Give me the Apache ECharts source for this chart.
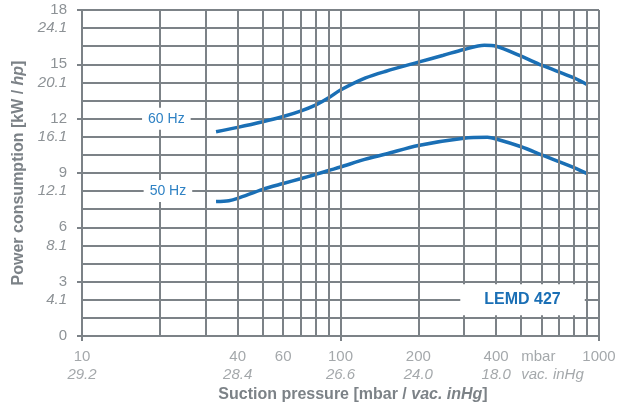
<!DOCTYPE html>
<html><head><meta charset="utf-8">
<script src="https://cdn.jsdelivr.net/npm/echarts@6/dist/echarts.min.js"></script>
<style>html,body{margin:0;padding:0;background:#fff}#c{width:619px;height:405px}</style>
</head><body><div id="c"></div>
<script>
// ---- data ----
const pressure60 = [33, 40, 50, 60, 70, 80, 90, 100, 125, 150, 200, 250, 300, 360, 400, 500, 600, 800, 905];
const power60    = [11.28, 11.52, 11.83, 12.12, 12.42, 12.75, 13.15, 13.58, 14.25, 14.62, 15.12, 15.5, 15.82, 16.05, 16.0, 15.45, 14.95, 14.25, 13.86];
const pressure50 = [33, 37, 40, 50, 60, 70, 80, 90, 100, 124, 150, 200, 300, 370, 400, 500, 600, 800, 905];
const power50    = [7.42, 7.47, 7.6, 8.1, 8.42, 8.68, 8.92, 9.14, 9.33, 9.75, 10.05, 10.52, 10.92, 10.97, 10.88, 10.45, 10.0, 9.3, 8.95];
const seriesNames = ['60 Hz', '50 Hz'];
const modelName = 'LEMD 427';

const xLabelValues = [10, 40, 60, 100, 200, 400, 1000];
const xLabelsMbar  = ['10', '40', '60', '100', '200', '400', '1000'];
const xLabelsInHg  = ['29.2', '28.4', '', '26.6', '24.0', '18.0', ''];
const xUnitValue = 665;
const xUnitMbar = 'mbar';
const xUnitInHg = 'vac. inHg';
const xGridValues = [20, 30, 40, 50, 60, 70, 80, 90, 100, 200, 300, 400, 500, 600, 700, 800, 900, 1000];

const yKwTicks = [0, 3, 6, 9, 12, 15, 18];
const yHpPositions = [2, 5, 8, 11, 14, 17];
const yHpLabels = ['4.1', '8.1', '12.1', '16.1', '20.1', '24.1'];

// ---- styles ----
const gridColor = '#7c8287';
const textColor = '#8d9296';
const blue = '#1a6fb5';
const labelBlue = '#2f82c4';
const font = '"Liberation Sans", Arial, sans-serif';

const chart = echarts.init(document.getElementById('c'), null, {renderer: 'canvas'});

const zip = (xs, ys) => xs.map((x, i) => [x, ys[i]]);

const option = {
  animation: false,
  backgroundColor: '#fff',
  textStyle: {fontFamily: font},
  grid: {left: 82, right: 20, top: 10, bottom: 69, containLabel: false, outerBoundsMode: 'none'},
  xAxis: [{
    type: 'log', logBase: 10, min: 10, max: 1000,
    name: 'Suction pressure [mbar / {i|vac. inHg}]',
    nameLocation: 'middle', nameGap: 51,
    nameTextStyle: {color: gridColor, fontSize: 16, fontWeight: 'bold', fontFamily: font, padding: [0, 0, 0, 25],
      rich: {i: {fontStyle: 'italic', fontWeight: 'bold', color: gridColor, fontSize: 16, fontFamily: font}}},
    axisLine: {show: true, lineStyle: {color: gridColor, width: 2}},
    axisTick: {show: true, length: 5, lineStyle: {color: gridColor, width: 2}},
    axisLabel: {show: false},
    splitLine: {show: false},
    minorTick: {show: false}
  }],
  yAxis: [{
    type: 'value', min: 0, max: 18, interval: 1,
    name: 'Power consumption [kW / {i|hp}]',
    nameLocation: 'middle', nameGap: 55,
    nameTextStyle: {color: gridColor, fontSize: 16, fontWeight: 'bold', fontFamily: font,
      rich: {i: {fontStyle: 'italic', fontWeight: 'bold', color: gridColor, fontSize: 16, fontFamily: font}}},
    axisLine: {show: true, lineStyle: {color: gridColor, width: 2}},
    axisTick: {show: false},
    splitLine: {show: true, lineStyle: {color: gridColor, width: 2}},
    axisLabel: {
      margin: 15, color: textColor, fontSize: 15, fontFamily: font,
      formatter: function (v) {
        if (yKwTicks.indexOf(v) >= 0) return '{k|' + v + '}';
        const i = yHpPositions.indexOf(v);
        if (i >= 0) return '{h|' + yHpLabels[i] + '}';
        return '';
      },
      rich: {
        k: {color: textColor, fontSize: 15, fontFamily: font},
        h: {color: textColor, fontSize: 15, fontStyle: 'italic', fontFamily: font}
      }
    }
  }, {
    type: 'value', min: 0, max: 18, interval: 3, position: 'left',
    axisLine: {show: false},
    axisTick: {show: true, length: 5, lineStyle: {color: gridColor, width: 2}},
    axisLabel: {show: false},
    splitLine: {show: false}
  }],
  series: [
    {
      type: 'line', name: 'grid', z: 1, silent: true, data: [],
      markLine: {
        silent: true, symbol: ['none', 'none'], animation: false,
        label: {show: false},
        lineStyle: {color: gridColor, width: 2, type: 'solid'},
        emphasis: {disabled: true},
        data: xGridValues.map(v => ({xAxis: v}))
      }
    },
    {
      type: 'line', name: seriesNames[0], z: 3, smooth: 0.3, symbol: 'none',
      lineStyle: {color: blue, width: 3.5}, itemStyle: {color: blue},
      data: zip(pressure60, power60),
      markPoint: {
        symbol: 'rect', symbolSize: 1, itemStyle: {color: 'rgba(0,0,0,0)'}, silent: true,
        data: [{coord: [21.2, 12], label: {show: true, position: 'inside', formatter: seriesNames[0],
          color: labelBlue, fontSize: 14, fontFamily: font, backgroundColor: '#fff', padding: [4, 6]}}]
      }
    },
    {
      type: 'line', name: seriesNames[1], z: 3, smooth: 0.3, symbol: 'none',
      lineStyle: {color: blue, width: 3.5}, itemStyle: {color: blue},
      data: zip(pressure50, power50),
      markPoint: {
        symbol: 'rect', symbolSize: 1, itemStyle: {color: 'rgba(0,0,0,0)'}, silent: true,
        data: [
          {coord: [21.5, 8], label: {show: true, position: 'inside', formatter: seriesNames[1],
            color: labelBlue, fontSize: 14, fontFamily: font, backgroundColor: '#fff', padding: [4, 6]}},
          {coord: [506, 2], label: {show: true, position: 'inside', formatter: modelName,
            color: blue, fontSize: 16, fontWeight: 'bold', fontFamily: font, backgroundColor: '#fff', padding: [8, 24, 7, 24]}}
        ]
      }
    },
    {
      type: 'scatter', name: 'xlabels', z: 4, silent: true,
      symbol: 'rect', symbolSize: 1, itemStyle: {color: 'rgba(0,0,0,0)'},
      label: {
        show: true, position: 'bottom', distance: 11, color: textColor, fontFamily: font,
        rich: {
          a: {color: textColor, fontSize: 15, lineHeight: 18, fontFamily: font},
          b: {color: textColor, fontSize: 15, lineHeight: 18, fontStyle: 'italic', fontFamily: font},
          m: {color: textColor, fontSize: 15, lineHeight: 18, fontFamily: font, width: 64, align: 'left'},
          v: {color: textColor, fontSize: 15, lineHeight: 18, fontStyle: 'italic', fontFamily: font, width: 64, align: 'left'}
        }
      },
      data: xLabelValues.map((v, i) => ({
        value: [v, 0],
        label: {formatter: '{a|' + xLabelsMbar[i] + '}\n{b|' + (xLabelsInHg[i] || ' ') + '}'}
      })).concat([{
        value: [xUnitValue, 0],
        label: {formatter: '{m|' + xUnitMbar + '}\n{v|' + xUnitInHg + '}'}
      }])
    }
  ]
};
chart.setOption(option);
</script>
</body></html>
